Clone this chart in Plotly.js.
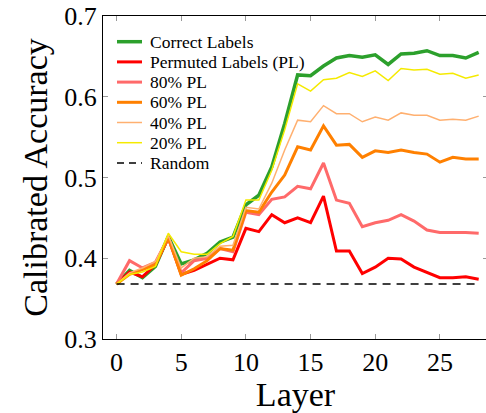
<!DOCTYPE html>
<html>
<head>
<meta charset="utf-8">
<script src="https://cdn.plot.ly/plotly-3.0.1.min.js"></script>
<style>html,body{margin:0;padding:0;background:#fff;overflow:hidden;}#chart{width:488px;height:413px;}</style>
</head>
<body>
<div id="chart"></div>
<script>
const layers = [0,1,2,3,4,5,6,7,8,9,10,11,12,13,14,15,16,17,18,19,20,21,22,23,24,25,26,27,28];
const correct = [0.368,0.385,0.376,0.390,0.427,0.393,0.398,0.406,0.420,0.426,0.466,0.478,0.513,0.567,0.627,0.626,0.638,0.648,0.651,0.649,0.652,0.640,0.653,0.654,0.657,0.651,0.651,0.648,0.655];
const permuted = [0.368,0.383,0.377,0.392,0.425,0.380,0.385,0.392,0.400,0.398,0.437,0.433,0.454,0.444,0.450,0.444,0.477,0.409,0.409,0.381,0.389,0.400,0.399,0.389,0.383,0.376,0.376,0.377,0.374];
const pl80 = [0.368,0.397,0.388,0.395,0.425,0.382,0.397,0.400,0.412,0.408,0.457,0.454,0.473,0.476,0.489,0.486,0.518,0.472,0.468,0.439,0.444,0.447,0.454,0.446,0.435,0.432,0.432,0.432,0.431];
const pl60 = [0.368,0.380,0.386,0.392,0.426,0.379,0.387,0.397,0.412,0.410,0.459,0.457,0.482,0.503,0.538,0.534,0.564,0.540,0.541,0.525,0.533,0.531,0.534,0.531,0.529,0.519,0.525,0.523,0.523];
const pl40 = [0.368,0.382,0.388,0.396,0.428,0.388,0.400,0.402,0.415,0.416,0.463,0.461,0.493,0.534,0.571,0.569,0.589,0.579,0.579,0.569,0.575,0.571,0.580,0.577,0.577,0.571,0.572,0.571,0.576];
const pl20 = [0.368,0.380,0.383,0.390,0.431,0.408,0.405,0.405,0.418,0.427,0.472,0.472,0.509,0.559,0.616,0.607,0.621,0.623,0.630,0.625,0.632,0.620,0.635,0.633,0.634,0.628,0.629,0.623,0.627];
const randomX = [0, 28];
const randomY = [0.368, 0.368];
const seriesNames = ['Correct Labels','Permuted Labels (PL)','80% PL','60% PL','40% PL','20% PL','Random'];
const xTicks = [0,5,10,15,20,25];
const yTicks = [0.3,0.4,0.5,0.6,0.7];

const font = '"Liberation Serif", "DejaVu Serif", serif';
const colors = ['#2ca02c','#ff0000','#ff6a6a','#ff8000','#ffb070','#f5ea00','#000000'];
const widths = [3.5, 3, 3, 3, 1.5, 1.5, 1.5];
const dashes = ['solid','solid','solid','solid','solid','solid','8px,6px'];
const ys = [correct, permuted, pl80, pl60, pl40, pl20, randomY];

const data = ys.map((y, i) => ({
  x: i === 6 ? randomX : layers, y: y, name: seriesNames[i], type: 'scatter', mode: 'lines',
  showlegend: false,
  line: {color: colors[i], width: widths[i], dash: dashes[i]}
}));

// manual legend (paper coordinates), plot area: x 103..488, y 16..339
const W = 385, H = 323;
const shapes = [], annotations = [];
seriesNames.forEach((n, i) => {
  const yc = 1 - (41.7 + 20.2 * i - 16) / H;
  shapes.push({type: 'line', xref: 'paper', yref: 'paper',
    x0: (117 - 103) / W, x1: (142 - 103) / W, y0: yc, y1: yc,
    line: {color: colors[i], width: widths[i], dash: i === 6 ? '7px,5px' : 'solid'}});
  annotations.push({xref: 'paper', yref: 'paper', x: (148 - 103) / W, y: yc,
    xanchor: 'left', yanchor: 'middle', showarrow: false, text: n,
    font: {family: font, size: 17.5, color: '#000'}});
});

const layout = {
  width: 488, height: 413,
  margin: {l: 103, r: 0, t: 16, b: 74},
  paper_bgcolor: '#fff', plot_bgcolor: '#fff',
  font: {family: font, color: '#000'},
  showlegend: false,
  shapes: shapes, annotations: annotations,
  xaxis: {range: [-1.05, 28.72], tickvals: xTicks, ticktext: xTicks.map(String),
          ticks: 'inside', ticklen: 5, tickcolor: '#999', tickwidth: 1,
          showline: true, linecolor: '#000', linewidth: 1, mirror: 'ticks',
          showgrid: false, zeroline: false,
          tickfont: {family: font, size: 26},
          title: {text: 'Layer', font: {family: font, size: 34}, standoff: 4}},
  yaxis: {range: [0.3, 0.7], tickvals: yTicks, ticktext: yTicks.map(v => v.toFixed(1)),
          ticks: 'inside', ticklen: 5, tickcolor: '#999', tickwidth: 1,
          showline: true, linecolor: '#000', linewidth: 1, mirror: 'ticks',
          showgrid: false, zeroline: false,
          tickfont: {family: font, size: 26},
          title: {text: 'Calibrated Accuracy', font: {family: font, size: 34}, standoff: 6}}
};
Plotly.newPlot('chart', data, layout, {displayModeBar: false, staticPlot: true});
</script>
</body>
</html>
